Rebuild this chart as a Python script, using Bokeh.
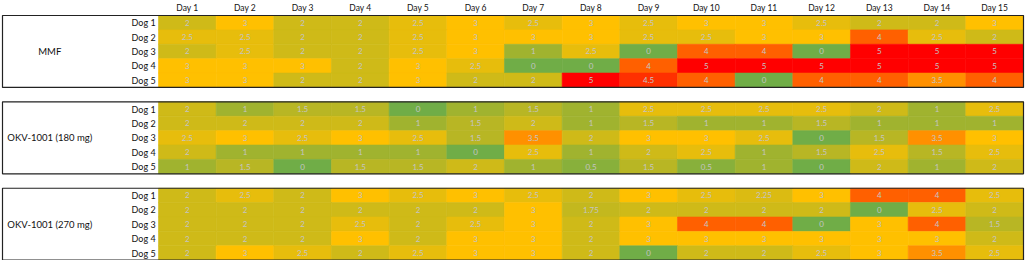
import numpy as np
from bokeh.plotting import figure
from bokeh.models import ColumnDataSource, Range1d
from bokeh.transform import linear_cmap
from bokeh.core.properties import value
from bokeh.embed import file_html
from bokeh.resources import INLINE

days = ["Day %d" % i for i in range(1, 16)]
dogs = ["Dog 1", "Dog 2", "Dog 3", "Dog 4", "Dog 5"]
groups = ["MMF", "OKV-1001 (180 mg)", "OKV-1001 (270 mg)"]

mmf = [
    [2, 3, 2, 2, 2.5, 3, 2.5, 3, 2.5, 3, 3, 2.5, 2, 2, 3],
    [2.5, 2.5, 2, 2, 2.5, 3, 3, 3, 2.5, 2.5, 3, 3, 4, 2.5, 2],
    [2, 2.5, 2, 2, 2.5, 3, 1, 2.5, 0, 4, 4, 0, 5, 5, 5],
    [3, 3, 3, 2, 3, 2.5, 0, 0, 4, 5, 5, 5, 5, 5, 5],
    [3, 3, 2, 2, 3, 2, 2, 5, 4.5, 4, 0, 4, 4, 3.5, 4],
]
okv180 = [
    [2, 1, 1.5, 1.5, 0, 1, 1.5, 1, 2.5, 2.5, 2.5, 2.5, 2, 1, 2.5],
    [2, 2, 2, 2, 1, 1.5, 2, 1, 1.5, 1, 1, 1.5, 1, 1, 1],
    [2.5, 3, 2.5, 3, 2.5, 1.5, 3.5, 2, 3, 3, 2.5, 0, 1.5, 3.5, 3],
    [2, 1, 1, 1, 1, 0, 2.5, 1, 2, 2.5, 1, 1.5, 2.5, 1.5, 2.5],
    [1, 1.5, 0, 1.5, 1.5, 2, 1, 0.5, 1.5, 0.5, 1, 0, 2, 1, 2],
]
okv270 = [
    [2, 2.5, 2, 3, 2.5, 3, 2.5, 2, 3, 2.5, 2.25, 3, 4, 4, 2.5],
    [2, 2, 2, 2, 2, 2, 3, 1.75, 2, 2, 2, 2, 0, 2.5, 2],
    [2, 2, 2, 2.5, 2, 2.5, 3, 2, 3, 4, 4, 0, 3, 4, 1.5],
    [2, 2, 2, 3, 2, 3, 3, 2, 3, 3, 3, 3, 3, 3, 2],
    [2, 3, 2.5, 2, 2.5, 3, 3, 2, 0, 2, 2, 2.5, 3, 3.5, 2.5],
]
panels = [mmf, okv180, okv270]

# 3-colour scale: green (0) -> amber (3) -> red (5)
def _mix(a, b, t):
    return tuple(int(round(a[i] + (b[i] - a[i]) * t)) for i in range(3))

g, y, r = (112, 173, 71), (255, 192, 0), (255, 0, 0)
palette = []
N = 101
for k in range(N):
    v = 5.0 * k / (N - 1)
    c = _mix(g, y, v / 3.0) if v <= 3 else _mix(y, r, (v - 3) / 2.0)
    palette.append("#%02x%02x%02x" % c)

xs, ys, vals, labels = [], [], [], []
for p, panel in enumerate(panels):
    for d, row in enumerate(panel):
        for j, v in enumerate(row):
            xs.append(j + 1)
            ys.append(p * 6 + d)
            vals.append(v)
            labels.append("%g" % v)
src = ColumnDataSource(dict(x=xs, y=ys, v=vals, t=labels))

cell_px = 57.67
x0 = 0.5 - 158 / cell_px
x1 = 15.5 + 7 / cell_px
row_px = 14.4
ytop = -0.5 - 15 / row_px
ybot = 16.5 + 0.3 / row_px

p = figure(width=1030, height=260, output_backend="svg", toolbar_location=None,
           x_range=Range1d(x0, x1), y_range=Range1d(ybot, ytop),
           min_border=0, min_border_left=0, min_border_right=0,
           min_border_top=0, min_border_bottom=0)
p.axis.visible = False
p.grid.visible = False
p.outline_line_color = None
p.background_fill_color = "white"
p.border_fill_color = "white"

cmap = linear_cmap("v", palette, 0, 5)
p.rect(x="x", y="y", width=1, height=1, source=src, fill_color=cmap,
       line_color=cmap, line_width=0.6)
p.text(x="x", y="y", text="t", source=src, text_align="center",
       text_baseline="middle", text_font=value("Lato"), text_font_size="8px",
       text_color="#c4c4c4")

# header
p.text(x=list(range(1, 16)), y=[-1.05] * 15, text=days, text_align="center",
       text_baseline="middle", text_font=value("Lato"), text_font_size="8.5px",
       text_color="#111111")

# dog labels
dx, dy, dt = [], [], []
for pi in range(3):
    for d, name in enumerate(dogs):
        dx.append(0.45)
        dy.append(pi * 6 + d)
        dt.append(name)
p.text(x=dx, y=dy, text=dt, text_align="right", text_baseline="middle",
       text_font=value("Lato"), text_font_size="9px", text_color="#111111")

# group labels
box_left = 0.5 - 156 / cell_px
p.text(x=[box_left + 0.82] * 3, y=[pi * 6 + 2 for pi in range(3)], text=groups,
       text_align="center", text_baseline="middle", text_font=value("Lato"),
       text_font_size="9.5px", text_color="#111111")

p.quad(left=[box_left] * 3, right=[15.5] * 3,
       top=[pi * 6 - 0.5 for pi in range(3)],
       bottom=[pi * 6 + 4.5 for pi in range(3)],
       fill_color=None, line_color="#222222", line_width=1.2)

open("out.html", "w").write(file_html(p, INLINE))
